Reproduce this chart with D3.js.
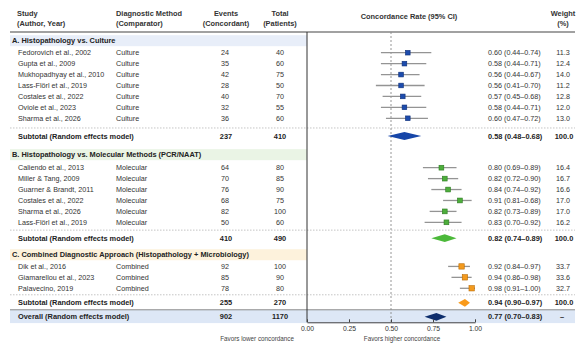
<!DOCTYPE html>
<html><head><meta charset="utf-8">
<script src="https://cdn.jsdelivr.net/npm/d3@7/dist/d3.min.js"></script>
<style>
html,body{margin:0;padding:0;background:#fff;}
svg text{font-family:"Liberation Sans",Arial,Helvetica,sans-serif;}
</style></head>
<body><div id="chart"></div>
<script>
// ---------------- DATA ----------------
const groupTitles = [
  "A. Histopathology vs. Culture",
  "B. Histopathology vs. Molecular Methods (PCR/NAAT)",
  "C. Combined Diagnostic Approach (Histopathology + Microbiology)"
];
const studyGroup = [0,0,0,0,0,0,0, 1,1,1,1,1,1, 2,2,2];
const studyNames = [
  "Fedorovich et al., 2002","Gupta et al., 2009","Mukhopadhyay et al., 2010","Lass-Flörl et al., 2019",
  "Costales et al., 2022","Oviole et al., 2023","Sharma et al., 2026",
  "Caliendo et al., 2013","Miller & Tang, 2009","Guarner & Brandt, 2011","Costales et al., 2022",
  "Sharma et al., 2026","Lass-Flörl et al., 2019",
  "Dik et al., 2016","Giamarellou et al., 2023","Palavecino, 2019"
];
const methods = ["Culture","Culture","Culture","Culture","Culture","Culture","Culture",
  "Molecular","Molecular","Molecular","Molecular","Molecular","Molecular",
  "Combined","Combined","Combined"];
const events = [24,35,42,28,40,32,36, 64,70,76,68,82,50, 92,85,78];
const totals = [40,60,75,50,70,55,60, 80,85,90,75,100,60, 100,90,80];
const estimates = [0.60,0.58,0.56,0.56,0.57,0.58,0.60, 0.80,0.82,0.84,0.91,0.82,0.83, 0.92,0.94,0.98];
const lower = [0.44,0.44,0.44,0.41,0.45,0.44,0.47, 0.69,0.72,0.74,0.81,0.73,0.70, 0.84,0.86,0.91];
const upper = [0.74,0.71,0.67,0.70,0.68,0.71,0.72, 0.89,0.90,0.92,0.98,0.89,0.92, 0.97,0.98,1.00];
const upperLabels = ["0.74","0.71","0.67","0.70","0.68","0.71","0.72",
  "0.89","0.90","0.92","0.68","0.89","0.92","0.97","0.98","1.00"];
const weights = [11.3,12.4,14.0,11.2,12.8,12.0,13.0, 16.4,16.7,16.6,17.0,17.0,16.2, 33.7,33.6,32.7];

const subEvents = [237,410,255];
const subTotals = [410,490,270];
const subEst = [0.58,0.82,0.94];
const subLower = [0.48,0.74,0.90];
const subUpper = [0.68,0.89,0.97];
const subWeight = ["100.0","100.0","100.0"];

const overallEvents = 902, overallTotal = 1170;
const overallEst = 0.77, overallLower = 0.70, overallUpper = 0.83;
const overallWeight = "–";

const xTicks = [0, 0.25, 0.5, 0.75, 1.0];

// ---------------- LAYOUT ----------------
const W = 578, H = 343;
const sqFill = ["#1d4cad","#4dae3b","#f39a1e"];
const sqStroke = ["#0e2f78","#2c7a20","#b96a00"];
const dmFill = ["#1746a8","#4cb93a","#f99a1a"];
const overallFill = "#0d2d6c";
const bgFill = ["#e8eef9","#eaf4e5","#fdf2dc"];

const x = d3.scaleLinear().domain([0,1]).range([307,475]);
const fmt2 = d3.format(".2f");

const headerToFirst = [12.0, 13.0, 11.7];
const rowStep = 10.93;
const lastToSub = [17.7, 15.8, 14.5];
const subToNext = [18.7, 16.6, 14.0];

const groupHeaderY = [], studyY = [], subY = [];
let yy = 40.7;
for (let g = 0; g < 3; g++) {
  groupHeaderY[g] = yy;
  yy += headerToFirst[g];
  let first = true;
  studyGroup.forEach((sg, i) => {
    if (sg !== g) return;
    if (!first) yy += rowStep;
    first = false;
    studyY[i] = yy;
  });
  yy += lastToSub[g];
  subY[g] = yy;
  yy += subToNext[g];
}
const overallY = yy;

const svg = d3.select("#chart").append("svg").attr("width", W).attr("height", H);
const FS = 7.2, FSB = 7.4;
const txt = "#222";

// header
const hdr = svg.append("g").attr("font-weight","bold").attr("font-size",FSB).attr("fill","#333");
hdr.append("text").attr("x",17).attr("y",13.3).attr("dy","0.35em").text("Study");
hdr.append("text").attr("x",17).attr("y",23.5).attr("dy","0.35em").text("(Author, Year)");
hdr.append("text").attr("x",116).attr("y",13.3).attr("dy","0.35em").text("Diagnostic Method");
hdr.append("text").attr("x",116).attr("y",23.5).attr("dy","0.35em").text("(Comparator)");
hdr.append("text").attr("x",226).attr("y",13.3).attr("dy","0.35em").attr("text-anchor","middle").text("Events");
hdr.append("text").attr("x",226).attr("y",23.5).attr("dy","0.35em").attr("text-anchor","middle").text("(Concordant)");
hdr.append("text").attr("x",280).attr("y",13.3).attr("dy","0.35em").attr("text-anchor","middle").text("Total");
hdr.append("text").attr("x",280).attr("y",23.5).attr("dy","0.35em").attr("text-anchor","middle").text("(Patients)");
hdr.append("text").attr("x",409).attr("y",16.5).attr("dy","0.35em").attr("text-anchor","middle").text("Concordance Rate (95% CI)");
hdr.append("text").attr("x",563).attr("y",13.3).attr("dy","0.35em").attr("text-anchor","middle").text("Weight");
hdr.append("text").attr("x",563).attr("y",23.5).attr("dy","0.35em").attr("text-anchor","middle").text("(%)");

// backgrounds
groupHeaderY.forEach((gy, g) => {
  svg.append("rect").attr("x",10).attr("y",gy-5.5).attr("width",x(0)-10).attr("height",11).attr("fill",bgFill[g]);
});
svg.append("rect").attr("x",10).attr("y",overallY-7).attr("width",565).attr("height",13.3).attr("fill","#dde7f6");
svg.append("line").attr("x1",10).attr("x2",575).attr("y1",overallY-7).attr("y2",overallY-7).attr("stroke","#8a8a8a").attr("stroke-width",1);

// header line
svg.append("line").attr("x1",10).attr("x2",575).attr("y1",32).attr("y2",32).attr("stroke","#444").attr("stroke-width",1.1);

// dotted separators
subY.forEach(sy => {
  svg.append("line").attr("x1",10).attr("x2",575).attr("y1",sy-8).attr("y2",sy-8)
    .attr("stroke","#b5b5b5").attr("stroke-width",0.8).attr("stroke-dasharray","1.5,1.5");
});

// reference lines
const axisY = overallY + 5.5;
svg.append("line").attr("x1",x(0.5)).attr("x2",x(0.5)).attr("y1",32).attr("y2",axisY)
  .attr("stroke","#8a8a8a").attr("stroke-width",0.9).attr("stroke-dasharray","2,2");
svg.append("line").attr("x1",x(0)).attr("x2",x(0)).attr("y1",32).attr("y2",axisY)
  .attr("stroke","#333").attr("stroke-width",1);

// group header text
groupHeaderY.forEach((gy, g) => {
  svg.append("text").attr("x",12).attr("y",gy).attr("dy","0.35em").attr("font-size",FSB)
    .attr("font-weight","bold").attr("fill",txt).text(groupTitles[g]);
});

// study rows
const sizeScale = d3.scaleLinear().domain([10,35]).range([4.6,5.4]);
studyNames.forEach((name, i) => {
  const ry = studyY[i], g = studyGroup[i];
  const t = svg.append("g").attr("font-size",FS).attr("fill","#333");
  t.append("text").attr("x",18).attr("y",ry).attr("dy","0.35em").text(name);
  t.append("text").attr("x",116).attr("y",ry).attr("dy","0.35em").text(methods[i]);
  t.append("text").attr("x",225).attr("y",ry).attr("dy","0.35em").attr("text-anchor","middle").text(events[i]);
  t.append("text").attr("x",280).attr("y",ry).attr("dy","0.35em").attr("text-anchor","middle").text(totals[i]);
  t.append("text").attr("x",488).attr("y",ry).attr("dy","0.35em")
    .text(`${fmt2(estimates[i])} (${fmt2(lower[i])}–${upperLabels[i]})`);
  t.append("text").attr("x",563).attr("y",ry).attr("dy","0.35em").attr("text-anchor","middle").text(weights[i].toFixed(1));
  svg.append("line").attr("x1",x(lower[i])).attr("x2",x(upper[i])).attr("y1",ry).attr("y2",ry)
    .attr("stroke","#949494").attr("stroke-width",1.3);
  const s = sizeScale(weights[i]);
  svg.append("rect").attr("x",x(estimates[i])-s/2).attr("y",ry-s/2).attr("width",s).attr("height",s)
    .attr("fill",sqFill[g]).attr("stroke",sqStroke[g]).attr("stroke-width",0.6);
});

// subtotals
function diamond(lo, est, hi, cy, h) {
  return `M${x(lo)},${cy} L${x(est)},${cy-h} L${x(hi)},${cy} L${x(est)},${cy+h} Z`;
}
subY.forEach((sy, g) => {
  const t = svg.append("g").attr("font-size",FSB).attr("font-weight","bold").attr("fill",txt);
  t.append("text").attr("x",18).attr("y",sy).attr("dy","0.35em").text("Subtotal (Random effects model)");
  t.append("text").attr("x",226).attr("y",sy).attr("dy","0.35em").attr("text-anchor","middle").text(subEvents[g]);
  t.append("text").attr("x",280).attr("y",sy).attr("dy","0.35em").attr("text-anchor","middle").text(subTotals[g]);
  t.append("text").attr("x",488).attr("y",sy).attr("dy","0.35em")
    .text(`${fmt2(subEst[g])} (${fmt2(subLower[g])}–${fmt2(subUpper[g])})`);
  t.append("text").attr("x",564).attr("y",sy).attr("dy","0.35em").attr("text-anchor","middle").text(subWeight[g]);
  svg.append("path").attr("d",diamond(subLower[g],subEst[g],subUpper[g],sy,3.9)).attr("fill",dmFill[g]);
});

// overall
{
  const t = svg.append("g").attr("font-size",FSB).attr("font-weight","bold").attr("fill",txt);
  t.append("text").attr("x",18).attr("y",overallY).attr("dy","0.35em").text("Overall (Random effects model)");
  t.append("text").attr("x",226).attr("y",overallY).attr("dy","0.35em").attr("text-anchor","middle").text(overallEvents);
  t.append("text").attr("x",280).attr("y",overallY).attr("dy","0.35em").attr("text-anchor","middle").text(overallTotal);
  t.append("text").attr("x",488).attr("y",overallY).attr("dy","0.35em")
    .text(`${fmt2(overallEst)} (${fmt2(overallLower)}–${fmt2(overallUpper)})`);
  t.append("text").attr("x",562).attr("y",overallY).attr("dy","0.35em").attr("text-anchor","middle").text(overallWeight);
  svg.append("path").attr("d",diamond(overallLower,overallEst,overallUpper,overallY,3.9)).attr("fill",overallFill);
}

// axis
const axis = d3.axisBottom(x).tickValues(xTicks).tickFormat(fmt2).tickSizeInner(-3).tickSizeOuter(0).tickPadding(3.5);
const ag = svg.append("g").attr("transform",`translate(0,${axisY})`).call(axis);
ag.select(".domain").attr("stroke","#444");
ag.selectAll(".tick line").attr("stroke","#444");
ag.selectAll(".tick text").attr("font-size",6.8).attr("fill","#333").attr("font-family","Liberation Sans, Arial, sans-serif");

svg.append("text").attr("x",294).attr("y",339).attr("dy","0.35em").attr("text-anchor","end")
  .attr("font-size",6.3).attr("fill","#444").text("Favors lower concordance");
svg.append("text").attr("x",402).attr("y",339).attr("dy","0.35em").attr("text-anchor","middle")
  .attr("font-size",6.3).attr("fill","#444").text("Favors higher concordance");
</script></body></html>
